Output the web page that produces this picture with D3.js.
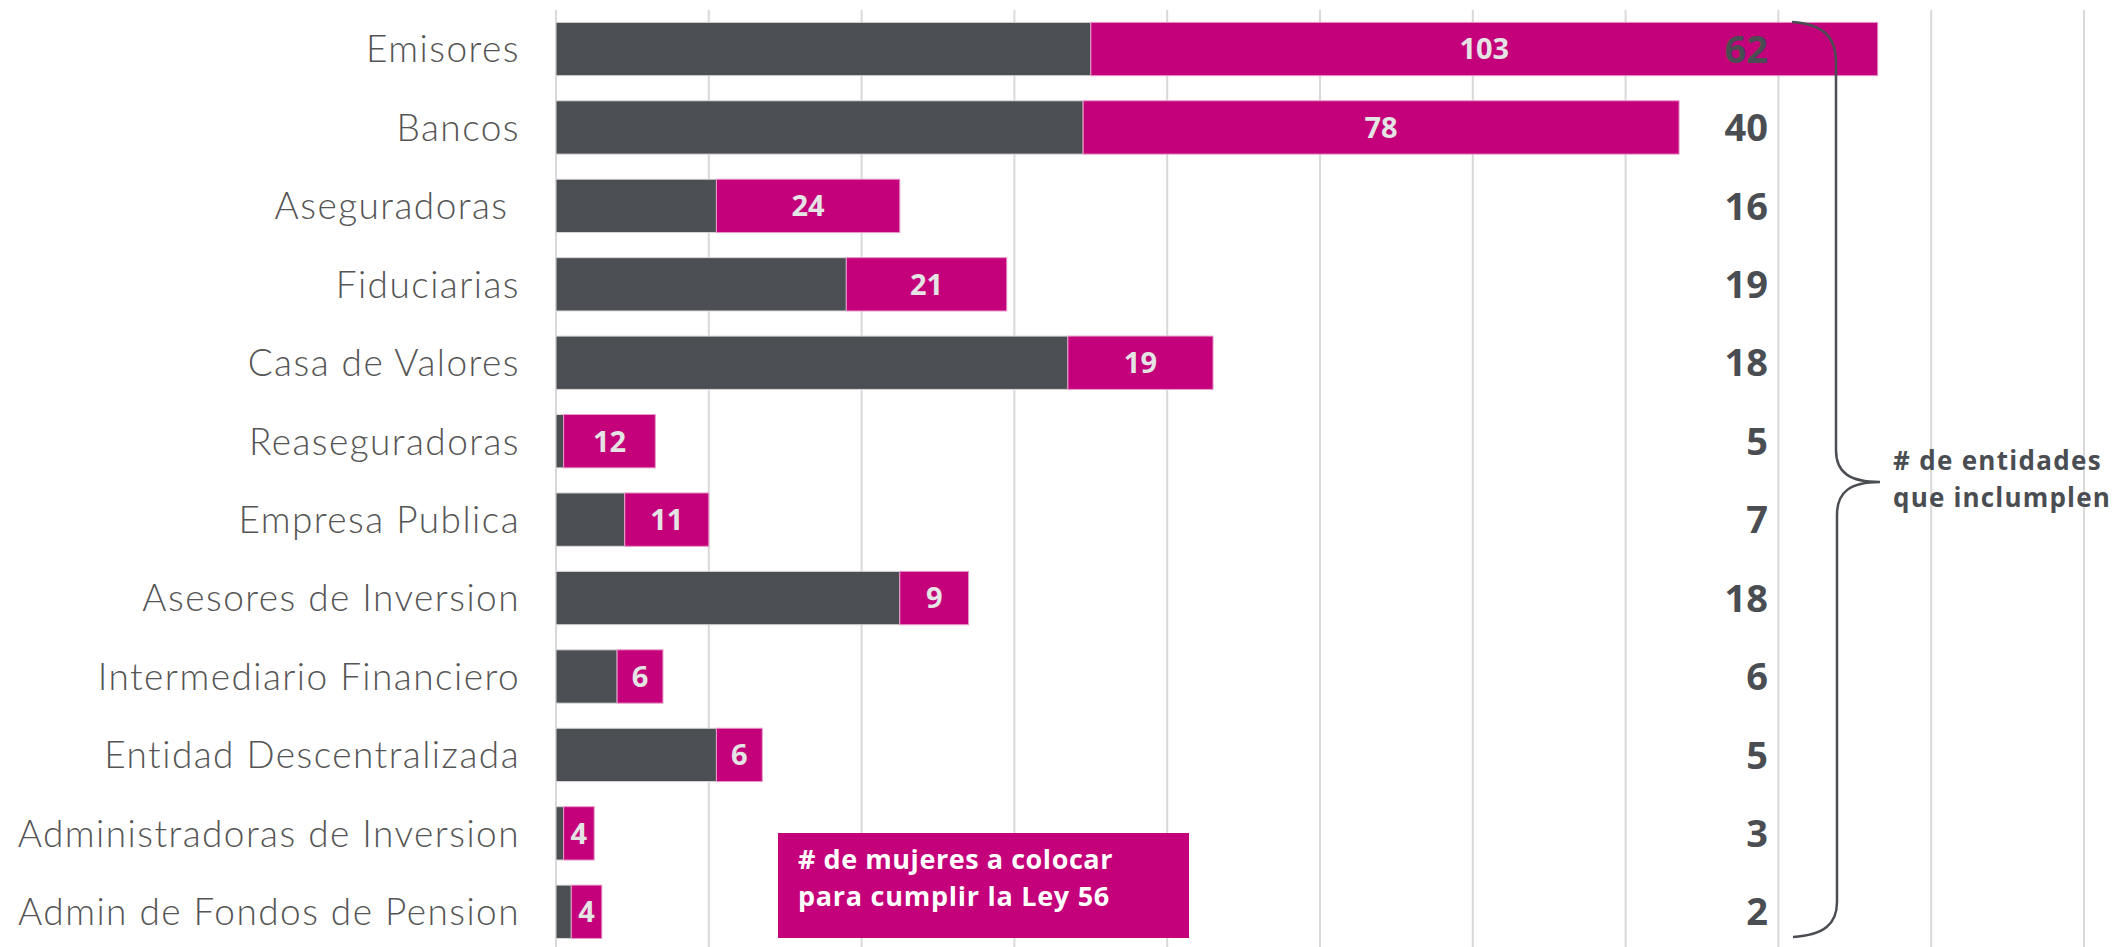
<!DOCTYPE html>
<html>
<head>
<meta charset="utf-8">
<script src="https://cdn.jsdelivr.net/npm/d3@7"></script>
<style>
  html, body { margin: 0; padding: 0; background: #ffffff; }
  svg { display: block; }
  text { white-space: pre; }
</style>
</head>
<body>
<svg id="chart" width="2116" height="947"></svg>
<script>
// ---- data ----
const categories = [
  "Emisores", "Bancos", "Aseguradoras ", "Fiduciarias", "Casa de Valores",
  "Reaseguradoras", "Empresa Publica", "Asesores de Inversion",
  "Intermediario Financiero", "Entidad Descentralizada",
  "Administradoras de Inversion", "Admin de Fondos de Pension"
];
const mujeresActuales = [70, 69, 21, 38, 67, 1, 9, 45, 8, 21, 1, 2];
const mujeresAColocar = [103, 78, 24, 21, 19, 12, 11, 9, 6, 6, 4, 4];
const entidadesIncumplen = [62, 40, 16, 19, 18, 5, 7, 18, 6, 5, 3, 2];
const xTicks = [0, 20, 40, 60, 80, 100, 120, 140, 160, 180, 200];
const legendLines = ["# de mujeres a colocar", "para cumplir la Ley 56"];
const braceLines = ["# de entidades", "que inclumplen"];

// ---- layout ----
const GREY = "#4b4e53";
const MAGENTA = "#c5007b";
const svg = d3.select("#chart");

const x = d3.scaleLinear().domain([0, 200]).range([556, 2084]);
const y = d3.scaleBand().domain(categories).range([9.8, 951])
  .paddingInner(0.32).paddingOuter(0.16);

const rows = categories.map((c, i) => ({
  cat: c, base: mujeresActuales[i], add: mujeresAColocar[i], ent: entidadesIncumplen[i]
}));

// stretch text (via letter-spacing) so its width matches a target width
function fitWidth(node, target) {
  const w = node.getComputedTextLength();
  const n = node.textContent.length;
  const ls = (target - w) / n;
  d3.select(node).attr("letter-spacing", ls);
  return ls;
}

// gridlines
svg.append("g").selectAll("line").data(xTicks).join("line")
  .attr("x1", d => x(d)).attr("x2", d => x(d))
  .attr("y1", 10).attr("y2", 947)
  .attr("stroke", "#d9d9d9").attr("stroke-width", 2);

// grey bars
svg.append("g").selectAll("rect").data(rows).join("rect")
  .attr("x", x(0)).attr("y", d => y(d.cat))
  .attr("width", d => x(d.base) - x(0))
  .attr("height", y.bandwidth())
  .attr("fill", GREY)
  .attr("stroke", "#d8d8d8").attr("stroke-width", 1);

// magenta bars
svg.append("g").selectAll("rect").data(rows).join("rect")
  .attr("x", d => x(d.base)).attr("y", d => y(d.cat))
  .attr("width", d => x(d.base + d.add) - x(d.base))
  .attr("height", y.bandwidth())
  .attr("fill", MAGENTA)
  .attr("stroke", "#e79ac8").attr("stroke-width", 1);

// magenta bar labels
svg.append("g").selectAll("text").data(rows).join("text")
  .attr("x", d => (x(d.base) + x(d.base + d.add)) / 2)
  .attr("y", d => y(d.cat) + y.bandwidth() / 2)
  .attr("dy", "0.36em")
  .attr("text-anchor", "middle")
  .attr("font-family", "'Open Sans', sans-serif")
  .attr("font-weight", 700)
  .attr("font-size", 29)
  .attr("fill", "#e4e4e4")
  .text(d => d.add);

// category labels
const catLabels = svg.append("g").selectAll("text").data(rows).join("text")
  .attr("x", 520)
  .attr("y", d => y(d.cat) + y.bandwidth() / 2)
  .attr("dy", "0.36em")
  .attr("text-anchor", "end")
  .attr("font-family", "Lato, sans-serif")
  .attr("font-weight", 300)
  .attr("font-size", 37)
  .attr("fill", "#555555")
  .text(d => d.cat);
// letter-spacing derived from the longest label's width in the reference
const longest = catLabels.filter(d => d.cat === "Admin de Fondos de Pension").node();
const catLs = fitWidth(longest, 502);
catLabels.attr("letter-spacing", catLs);

// right-side numbers (# entidades)
svg.append("g").selectAll("text").data(rows).join("text")
  .attr("x", 1768)
  .attr("y", d => y(d.cat) + y.bandwidth() / 2)
  .attr("dy", "0.36em")
  .attr("text-anchor", "end")
  .attr("font-family", "'Open Sans', sans-serif")
  .attr("font-weight", 700)
  .attr("font-size", 38)
  .attr("fill", "#4a4d52")
  .text(d => d.ent);

// brace
svg.append("path")
  .attr("d", "M1792,22 C1822,24 1836,36 1836,62 L1836,450 C1836,473 1850,482 1880,482 C1850,482 1837,492 1837,515 L1837,902 C1837,924 1824,935 1793,937")
  .attr("fill", "none").attr("stroke", "#4a4d52").attr("stroke-width", 2.5);

const braceWidths = [209, 218];
svg.append("g").selectAll("text").data(braceLines).join("text")
  .attr("x", 1893)
  .attr("y", (d, i) => 470 + i * 37)
  .attr("font-family", "'Open Sans', sans-serif")
  .attr("font-weight", 700)
  .attr("font-size", 26)
  .attr("fill", "#4a4d52")
  .text(d => d)
  .each(function(d, i) { fitWidth(this, braceWidths[i]); });

// legend box
svg.append("rect")
  .attr("x", 778).attr("y", 833).attr("width", 411).attr("height", 105)
  .attr("fill", MAGENTA);
const legendWidths = [315, 312];
svg.append("g").selectAll("text").data(legendLines).join("text")
  .attr("x", 798)
  .attr("y", (d, i) => 869 + i * 37)
  .attr("font-family", "'Open Sans', sans-serif")
  .attr("font-weight", 700)
  .attr("font-size", 27)
  .attr("fill", "#ffffff")
  .text(d => d)
  .each(function(d, i) { fitWidth(this, legendWidths[i]); });
</script>
</body>
</html>
